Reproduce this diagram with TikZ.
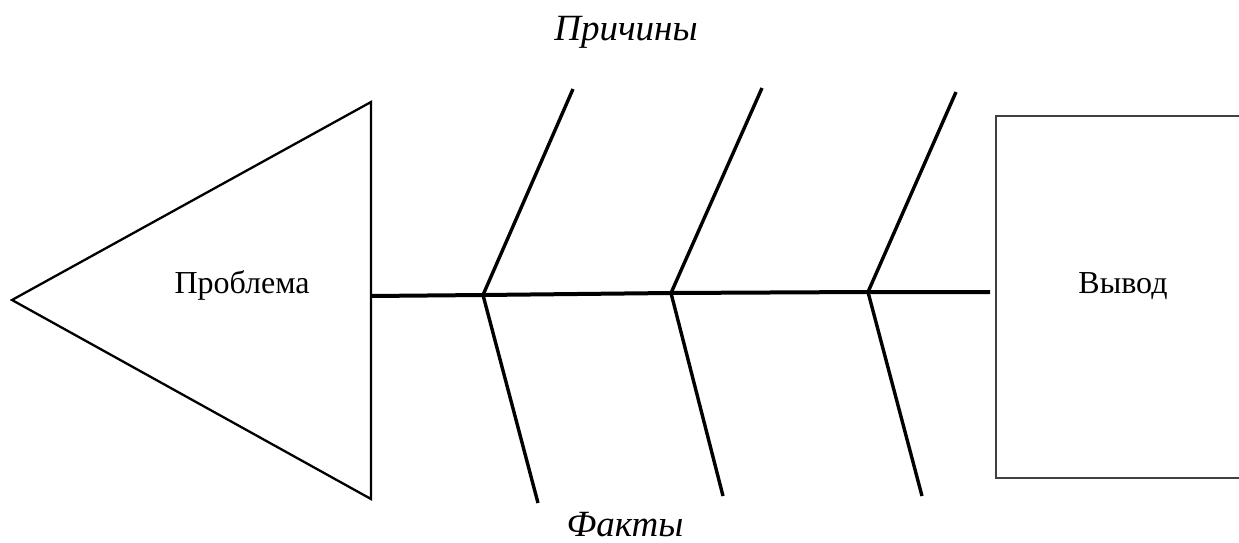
\documentclass[tikz,border=0pt]{standalone}
\usepackage{fontspec}
\setmainfont{Liberation Serif}
\begin{document}
\begin{tikzpicture}[x=1pt,y=-1pt,
  outline/.style={draw=black,line width=2.3pt,line join=miter},
  framebox/.style={draw=black!75,line width=1.4pt},
  spine/.style={draw=black,line width=4pt},
  bone/.style={draw=black,line width=3.4pt},
  plain/.style={font=\fontsize{32}{38}\selectfont,inner sep=0pt},
  heading/.style={font=\fontsize{37}{44}\selectfont\itshape,inner sep=0pt}]
\useasboundingbox (0,0) rectangle (1239,543);
% triangle (head)
\coordinate (tip) at (12,300);
\coordinate (ttop) at (371,102);
\coordinate (tbot) at (371,499);
\coordinate (tmid) at (371,296);
\draw[outline] (tip) -- (ttop) -- (tbot) -- cycle;
\node[plain] (problem) at (242,285) {Проблема};
% conclusion box
\draw[framebox] (1250,116) -- (996,116) -- (996,478) -- (1250,478);
\node[plain] (result) at (1123,286) {Вывод};
% spine
\coordinate (j1) at (483,295);
\coordinate (j2) at (671,293);
\coordinate (j3) at (868,292);
\coordinate (send) at (990,292);
\draw[spine] (tmid) -- (j1) -- (j2) -- (j3) -- (send);
% bones
\coordinate (u1) at (573,89);
\coordinate (u2) at (762,88);
\coordinate (u3) at (956,92);
\coordinate (l1) at (538,503);
\coordinate (l2) at (723,496);
\coordinate (l3) at (922,496);
\draw[bone] (u1) -- (j1) -- (l1);
\draw[bone] (u2) -- (j2) -- (l2);
\draw[bone] (u3) -- (j3) -- (l3);
% labels
\node[heading] (causes) at (626,32) {Причины};
\node[heading] (facts) at (625,525) {Факты};
\end{tikzpicture}
\end{document}
